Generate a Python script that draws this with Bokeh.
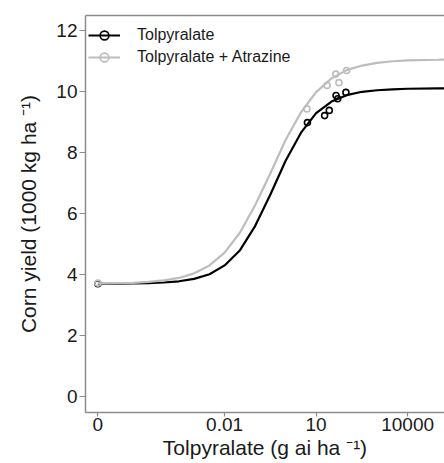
from bokeh.plotting import figure
from bokeh.models import (Range1d, FixedTicker, CustomJSTickFormatter, LinearAxis,
                          Legend, LegendItem)
from bokeh.embed import file_html
from bokeh.resources import INLINE

# ---- data ----
zero_dose_position = 7e-7          # where dose 0 sits on the broken log axis
x_tick_values = [0, 0.01, 10, 10000]
x_tick_labels = ["0", "0.01", "10", "10000"]
y_tick_values = [0, 2, 4, 6, 8, 10, 12]

series_names = ["Tolpyralate", "Tolpyralate + Atrazine"]

# fitted curves (read at half-decade steps)
curve_dose = [0, 3.2e-6, 1e-5, 3.2e-5, 1e-4, 3.2e-4, 1e-3, 3.2e-3, 0.01, 0.032, 0.1,
              0.32, 1, 3.2, 10, 32, 100, 320, 1000, 3200, 10000, 1e5, 2e5]
tol_curve_yield = [3.70, 3.70, 3.71, 3.72, 3.74, 3.78, 3.86, 4.01, 4.30, 4.80, 5.59,
                   6.63, 7.73, 8.65, 9.29, 9.67, 9.88, 9.99, 10.04, 10.07, 10.09,
                   10.10, 10.10]
atr_curve_yield = [3.71, 3.72, 3.73, 3.76, 3.81, 3.89, 4.04, 4.30, 4.72, 5.38, 6.27,
                   7.33, 8.41, 9.32, 9.98, 10.43, 10.70, 10.85, 10.94, 10.99, 11.02,
                   11.04, 11.05]

# observed means
tol_dose = [0, 5.2, 19, 27, 45, 51, 95]
tol_yield = [3.70, 8.98, 9.21, 9.38, 9.87, 9.76, 9.97]
atr_dose = [0, 5.0, 23, 44, 56, 100]
atr_yield = [3.72, 9.43, 10.20, 10.57, 10.29, 10.69]


def pos(doses):
    return [d if d > 0 else zero_dose_position for d in doses]


BLACK = "#000000"
GRAY = "#bdbdbd"
AXIS = "#8c8c8c"
TEXT = "#1a1a1a"
FONT = "Liberation Sans"

p = figure(width=444, height=463, x_axis_type="log", output_backend="svg",
           toolbar_location=None,
           x_range=Range1d(2.75e-7, 1.62e5), y_range=Range1d(-0.52, 12.49),
           min_border_left=85, min_border_right=0, min_border_top=15,
           min_border_bottom=51)
p.outline_line_color = None
p.grid.visible = False
p.background_fill_color = "white"
p.border_fill_color = "white"

l1 = p.line(pos(curve_dose), tol_curve_yield, line_color=BLACK, line_width=2.2)
s1 = p.scatter(pos(tol_dose), tol_yield, marker="circle", size=6, fill_color=None,
               line_color=BLACK, line_width=1.6)
l2 = p.line(pos(curve_dose), atr_curve_yield, line_color=GRAY, line_width=2.2)
s2 = p.scatter(pos(atr_dose), atr_yield, marker="circle", size=6, fill_color=None,
               line_color=GRAY, line_width=1.6)

# axes
xa = p.xaxis[0]
xa.ticker = FixedTicker(ticks=pos(x_tick_values))
xa.formatter = CustomJSTickFormatter(args=dict(vals=pos(x_tick_values), labs=x_tick_labels), code="""
let best = 0, bd = Infinity;
for (let i = 0; i < vals.length; i++) {
  const d = Math.abs(Math.log10(vals[i]) - Math.log10(tick));
  if (d < bd) { bd = d; best = i; }
}
return labs[best];
""")
xa.axis_label = "Tolpyralate (g ai ha \u207b\u00b9)"
ya = p.yaxis[0]
ya.ticker = FixedTicker(ticks=y_tick_values)
ya.axis_label = "Corn yield (1000 kg ha \u207b\u00b9)"

for ax in (xa, ya):
    ax.axis_line_color = AXIS
    ax.axis_line_width = 1.5
    ax.major_tick_line_color = AXIS
    ax.major_tick_line_width = 1.2
    ax.minor_tick_line_color = None
    ax.major_tick_in = 0
    ax.major_label_text_font = FONT
    ax.major_label_text_font_size = "19px"
    ax.major_label_text_color = TEXT
    ax.axis_label_text_font = FONT
    ax.axis_label_text_font_size = "21px"
    ax.axis_label_text_font_style = "normal"
    ax.axis_label_text_color = TEXT

xa.major_tick_out = 4
xa.major_label_standoff = 1
xa.axis_label_standoff = 2
ya.major_tick_out = 6
ya.major_label_standoff = 2
ya.axis_label_standoff = 13

top = LinearAxis(ticker=FixedTicker(ticks=[]), axis_line_color=AXIS, axis_line_width=1.5,
                 major_tick_line_color=None, minor_tick_line_color=None,
                 major_label_text_font_size="0px")
p.add_layout(top, "above")

legend = Legend(items=[LegendItem(label=series_names[0], renderers=[l1, s1]),
                       LegendItem(label=series_names[1], renderers=[l2, s2])],
                location=(3, 344), padding=0, margin=0, spacing=0,
                glyph_width=32, glyph_height=22, label_height=22, label_standoff=17,
                label_text_font=FONT, label_text_font_size="16px",
                label_text_color=TEXT,
                border_line_color=None, background_fill_alpha=0)
p.add_layout(legend, "center")

open("out.html", "w").write(file_html(p, INLINE))
